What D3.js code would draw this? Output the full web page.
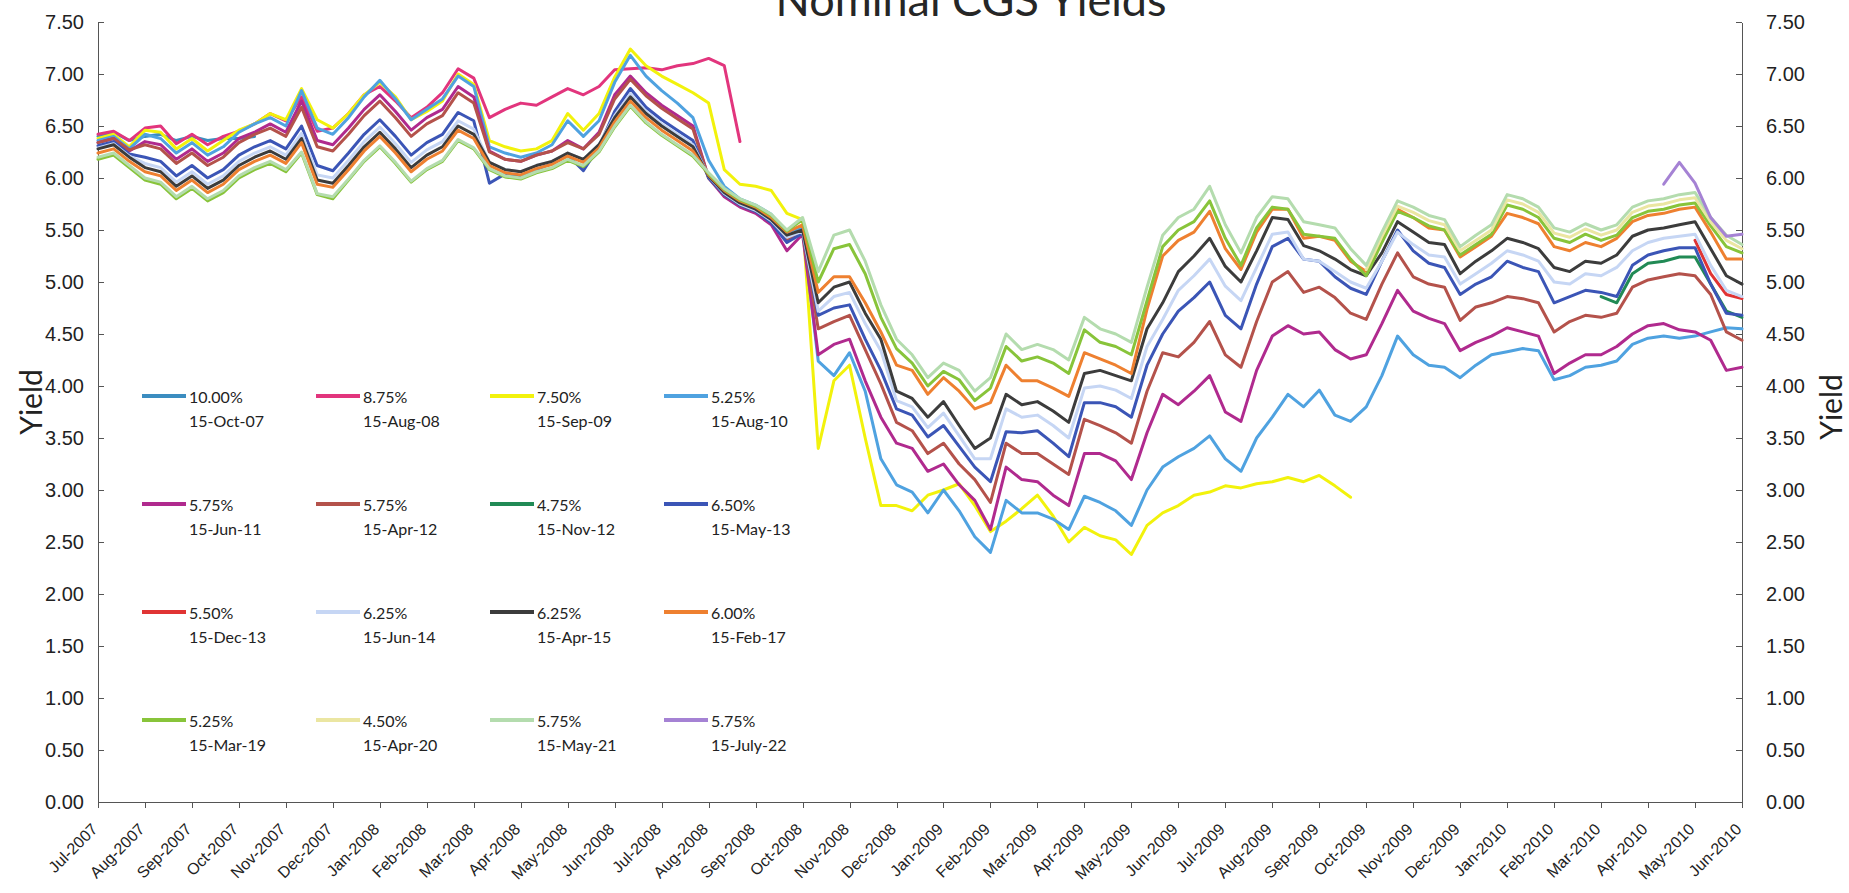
<!DOCTYPE html>
<html>
<head>
<meta charset="utf-8">
<title>Nominal CGS Yields</title>
<script src="https://d3js.org/d3.v7.min.js"></script>
<style>
  body { margin: 0; background: #fff; }
  svg { display: block; font-family: Lato, "Open Sans", sans-serif; }
  .axis path, .axis line { stroke: #555; shape-rendering: crispEdges; }
  .axis text { fill: #222; }
</style>
</head>
<body>
<svg id="chart" width="1849" height="893"></svg>
<script>
// x axis labels, one per month
var months = ["Jul-2007", "Aug-2007", "Sep-2007", "Oct-2007", "Nov-2007", "Dec-2007",
  "Jan-2008", "Feb-2008", "Mar-2008", "Apr-2008", "May-2008", "Jun-2008",
  "Jul-2008", "Aug-2008", "Sep-2008", "Oct-2008", "Nov-2008", "Dec-2008",
  "Jan-2009", "Feb-2009", "Mar-2009", "Apr-2009", "May-2009", "Jun-2009",
  "Jul-2009", "Aug-2009", "Sep-2009", "Oct-2009", "Nov-2009", "Dec-2009",
  "Jan-2010", "Feb-2010", "Mar-2010", "Apr-2010", "May-2010", "Jun-2010"];

var yTicks = [0, 0.5, 1, 1.5, 2, 2.5, 3, 3.5, 4, 4.5, 5, 5.5, 6, 6.5, 7, 7.5];

// readings are taken on the 1st, 11th and 21st of each month (index 0 = 1 Jul 2007)
var readings = d3.range(106).map(function (i) { return i / 3; });

// yields (%)
var oct07 = [6.40,6.44,6.36,6.40,6.42,6.36,6.40,6.36,6.38,6.38,6.40];

var aug08 = [6.42,6.45,6.36,6.48,6.50,6.33,6.42,6.32,6.40,6.45,
  6.52,6.62,6.55,6.78,6.45,6.48,6.62,6.80,6.88,6.74,
  6.58,6.68,6.82,7.05,6.96,6.58,6.66,6.72,6.70,6.78,
  6.86,6.80,6.88,7.04,7.05,7.06,7.04,7.08,7.10,7.15,
  7.08,6.35];

var sep09 = [6.38,6.42,6.30,6.46,6.44,6.28,6.38,6.26,6.36,6.46,
  6.52,6.62,6.56,6.86,6.56,6.48,6.62,6.80,6.92,6.78,
  6.56,6.64,6.74,7.00,6.90,6.36,6.30,6.26,6.28,6.36,
  6.62,6.46,6.62,6.97,7.24,7.08,6.98,6.90,6.82,6.72,
  6.08,5.94,5.92,5.88,5.66,5.60,3.40,4.05,4.20,3.50,
  2.85,2.85,2.80,2.95,3.00,3.06,2.85,2.60,2.70,2.82,
  2.95,2.75,2.50,2.64,2.56,2.52,2.38,2.66,2.78,2.85,
  2.95,2.98,3.04,3.02,3.06,3.08,3.12,3.08,3.14,3.04,
  2.93];

var aug10 = [6.36,6.40,6.28,6.42,6.38,6.24,6.34,6.22,6.30,6.44,
  6.52,6.58,6.50,6.84,6.48,6.42,6.58,6.78,6.94,6.76,
  6.56,6.66,6.76,6.98,6.88,6.30,6.24,6.20,6.24,6.32,
  6.55,6.40,6.55,6.92,7.18,6.98,6.84,6.72,6.58,6.17,
  5.92,5.80,5.74,5.65,5.48,5.52,4.24,4.10,4.32,3.95,
  3.30,3.05,2.98,2.78,3.00,2.80,2.55,2.40,2.90,2.78,
  2.78,2.72,2.62,2.94,2.88,2.80,2.66,3.00,3.22,3.32,
  3.40,3.52,3.30,3.18,3.50,3.70,3.92,3.80,3.96,3.72,
  3.66,3.80,4.10,4.48,4.30,4.20,4.18,4.08,4.20,4.30,
  4.33,4.36,4.34,4.06,4.10,4.18,4.20,4.24,4.40,4.46,
  4.48,4.46,4.48,4.52,4.56,4.55];

var jun11 = [6.34,6.38,6.26,6.35,6.32,6.18,6.28,6.16,6.24,6.38,
  6.44,6.52,6.44,6.74,6.36,6.32,6.48,6.66,6.80,6.64,
  6.46,6.58,6.66,6.88,6.78,6.26,6.18,6.16,6.22,6.26,
  6.36,6.28,6.44,6.80,6.98,6.82,6.70,6.60,6.50,6.00,
  5.82,5.72,5.66,5.55,5.30,5.46,4.30,4.40,4.45,4.05,
  3.70,3.45,3.40,3.18,3.25,3.05,2.90,2.62,3.22,3.10,
  3.08,2.95,2.85,3.35,3.35,3.28,3.10,3.55,3.92,3.82,
  3.95,4.10,3.75,3.66,4.15,4.48,4.58,4.50,4.52,4.35,
  4.26,4.30,4.60,4.92,4.72,4.65,4.60,4.34,4.42,4.48,
  4.56,4.52,4.48,4.12,4.22,4.30,4.30,4.38,4.50,4.58,
  4.60,4.54,4.52,4.44,4.15,4.18];

var apr12 = [6.34,6.38,6.27,6.32,6.28,6.14,6.24,6.12,6.20,6.34,
  6.42,6.48,6.40,6.68,6.30,6.26,6.42,6.60,6.74,6.58,
  6.40,6.52,6.60,6.82,6.72,6.25,6.18,6.16,6.22,6.26,
  6.34,6.28,6.42,6.76,6.95,6.79,6.67,6.57,6.47,6.00,
  5.84,5.74,5.68,5.58,5.40,5.48,4.55,4.62,4.68,4.35,
  4.02,3.65,3.57,3.35,3.45,3.25,3.10,2.88,3.45,3.35,
  3.35,3.25,3.15,3.68,3.62,3.55,3.45,3.95,4.32,4.28,
  4.42,4.62,4.30,4.18,4.62,5.00,5.10,4.90,4.95,4.85,
  4.70,4.64,4.98,5.28,5.05,4.98,4.95,4.63,4.76,4.80,
  4.86,4.84,4.80,4.52,4.62,4.68,4.66,4.70,4.95,5.02,
  5.05,5.08,5.06,4.88,4.52,4.44];

var nov12 = [4.86,4.80,5.08,5.18,5.20,5.24,5.24,4.98,4.72,4.66];

var may13 = [6.31,6.35,6.23,6.20,6.16,6.02,6.12,6.00,6.08,6.22,
  6.30,6.36,6.28,6.50,6.12,6.07,6.24,6.42,6.56,6.40,
  6.22,6.34,6.42,6.63,6.55,5.95,6.04,6.02,6.08,6.14,
  6.22,6.07,6.30,6.64,6.86,6.68,6.56,6.46,6.36,6.00,
  5.84,5.74,5.68,5.57,5.38,5.47,4.68,4.75,4.78,4.45,
  4.15,3.78,3.72,3.51,3.62,3.42,3.22,3.08,3.56,3.55,
  3.57,3.45,3.32,3.84,3.84,3.80,3.70,4.20,4.50,4.72,
  4.85,5.00,4.68,4.55,4.98,5.34,5.42,5.22,5.20,5.05,
  4.94,4.88,5.20,5.50,5.30,5.18,5.14,4.88,4.98,5.05,
  5.20,5.14,5.10,4.80,4.86,4.92,4.90,4.86,5.16,5.26,
  5.30,5.33,5.33,4.98,4.70,4.68];

var dec13 = [5.40,5.08,4.88,4.84];

var jun14 = [6.29,6.33,6.21,6.14,6.10,5.96,6.06,5.94,6.02,6.16,
  6.24,6.30,6.22,6.43,6.03,6.00,6.17,6.35,6.49,6.33,
  6.15,6.27,6.35,6.55,6.47,6.15,6.08,6.06,6.12,6.16,
  6.24,6.18,6.32,6.60,6.81,6.64,6.52,6.42,6.32,6.02,
  5.85,5.75,5.69,5.59,5.43,5.49,4.72,4.86,4.90,4.60,
  4.34,3.86,3.80,3.60,3.74,3.52,3.30,3.30,3.78,3.70,
  3.72,3.62,3.50,3.98,4.00,3.96,3.88,4.38,4.64,4.92,
  5.06,5.22,4.96,4.82,5.14,5.46,5.48,5.22,5.20,5.10,
  5.00,4.94,5.20,5.48,5.36,5.26,5.24,4.98,5.08,5.18,
  5.30,5.26,5.20,5.00,4.98,5.08,5.06,5.14,5.30,5.38,
  5.42,5.44,5.46,5.16,4.92,4.86];

var apr15 = [6.28,6.32,6.20,6.10,6.06,5.92,6.02,5.90,5.98,6.12,
  6.20,6.26,6.18,6.38,5.98,5.95,6.12,6.30,6.44,6.28,
  6.10,6.22,6.30,6.50,6.42,6.15,6.08,6.06,6.12,6.16,
  6.24,6.18,6.32,6.58,6.78,6.62,6.50,6.40,6.30,6.02,
  5.86,5.76,5.70,5.60,5.45,5.50,4.80,4.95,5.00,4.70,
  4.45,3.95,3.88,3.70,3.85,3.62,3.40,3.50,3.92,3.82,
  3.85,3.76,3.65,4.12,4.15,4.10,4.05,4.55,4.80,5.10,
  5.25,5.42,5.15,5.00,5.30,5.62,5.60,5.35,5.30,5.22,
  5.12,5.06,5.28,5.58,5.48,5.38,5.36,5.08,5.20,5.30,
  5.42,5.38,5.32,5.14,5.10,5.20,5.18,5.26,5.44,5.50,
  5.52,5.55,5.58,5.32,5.06,4.98];

var feb17 = [6.24,6.28,6.16,6.06,6.02,5.88,5.98,5.86,5.94,6.08,
  6.16,6.22,6.14,6.34,5.94,5.91,6.08,6.26,6.40,6.24,
  6.06,6.18,6.26,6.46,6.38,6.12,6.05,6.03,6.09,6.13,
  6.21,6.15,6.29,6.54,6.74,6.58,6.46,6.36,6.26,6.03,
  5.88,5.78,5.72,5.62,5.48,5.55,4.90,5.05,5.05,4.80,
  4.52,4.20,4.15,3.92,4.08,3.95,3.78,3.84,4.20,4.05,
  4.05,3.98,3.90,4.32,4.26,4.20,4.12,4.74,5.25,5.40,
  5.48,5.68,5.32,5.12,5.48,5.70,5.70,5.42,5.44,5.40,
  5.20,5.10,5.40,5.70,5.62,5.52,5.50,5.24,5.34,5.44,
  5.66,5.62,5.56,5.34,5.30,5.38,5.34,5.42,5.58,5.64,
  5.66,5.70,5.72,5.48,5.22,5.22];

var mar19 = [6.18,6.22,6.10,5.98,5.94,5.80,5.90,5.78,5.86,6.00,
  6.08,6.14,6.06,6.24,5.84,5.80,5.98,6.16,6.30,6.14,
  5.96,6.08,6.16,6.36,6.28,6.08,6.01,5.99,6.05,6.09,
  6.17,6.11,6.25,6.49,6.69,6.53,6.41,6.31,6.21,6.04,
  5.89,5.79,5.73,5.64,5.49,5.60,5.00,5.32,5.36,5.08,
  4.66,4.36,4.22,4.00,4.14,4.06,3.86,3.98,4.38,4.24,
  4.28,4.22,4.12,4.54,4.42,4.38,4.30,4.82,5.34,5.50,
  5.58,5.78,5.42,5.16,5.52,5.72,5.70,5.46,5.44,5.42,
  5.22,5.06,5.38,5.68,5.62,5.54,5.50,5.26,5.36,5.46,
  5.74,5.70,5.62,5.42,5.38,5.46,5.40,5.45,5.62,5.68,
  5.70,5.74,5.76,5.54,5.34,5.28];

var apr20 = [5.12,5.44,5.73,5.67,5.59,5.55,5.30,5.40,5.50,5.79,
  5.75,5.67,5.47,5.43,5.51,5.45,5.50,5.67,5.73,5.75,
  5.79,5.81,5.58,5.40,5.32];

var may21 = [6.20,6.24,6.12,6.00,5.96,5.82,5.92,5.80,5.88,6.02,
  6.10,6.16,6.08,6.25,5.85,5.82,5.99,6.17,6.31,6.15,
  5.97,6.09,6.17,6.37,6.29,6.09,6.02,6.00,6.06,6.10,
  6.18,6.12,6.26,6.50,6.70,6.54,6.42,6.32,6.22,6.05,
  5.90,5.80,5.74,5.65,5.50,5.62,5.10,5.45,5.50,5.20,
  4.78,4.45,4.30,4.08,4.22,4.15,3.95,4.08,4.50,4.35,
  4.40,4.35,4.25,4.66,4.55,4.50,4.42,4.95,5.45,5.62,
  5.70,5.92,5.55,5.28,5.62,5.82,5.80,5.58,5.55,5.52,
  5.32,5.16,5.48,5.78,5.72,5.64,5.60,5.34,5.45,5.55,
  5.84,5.80,5.72,5.52,5.48,5.56,5.50,5.55,5.72,5.78,
  5.80,5.84,5.86,5.62,5.45,5.36];

var jul22 = [5.94,6.15,5.95,5.62,5.44,5.46];

// legend order = drawing order
var bonds = [
  {coupon: "10.00%", maturity: "15-Oct-07", color: "#3b8dc0", first: 0, values: oct07},
  {coupon: "8.75%", maturity: "15-Aug-08", color: "#e2357d", first: 0, values: aug08},
  {coupon: "7.50%", maturity: "15-Sep-09", color: "#f2f20c", first: 0, values: sep09},
  {coupon: "5.25%", maturity: "15-Aug-10", color: "#4fa2e0", first: 0, values: aug10},
  {coupon: "5.75%", maturity: "15-Jun-11", color: "#b02a8e", first: 0, values: jun11},
  {coupon: "5.75%", maturity: "15-Apr-12", color: "#b4524b", first: 0, values: apr12},
  {coupon: "4.75%", maturity: "15-Nov-12", color: "#218a55", first: 96, values: nov12},
  {coupon: "6.50%", maturity: "15-May-13", color: "#3b55b6", first: 0, values: may13},
  {coupon: "5.50%", maturity: "15-Dec-13", color: "#e03434", first: 102, values: dec13},
  {coupon: "6.25%", maturity: "15-Jun-14", color: "#c6d6f4", first: 0, values: jun14},
  {coupon: "6.25%", maturity: "15-Apr-15", color: "#3c3c3c", first: 0, values: apr15},
  {coupon: "6.00%", maturity: "15-Feb-17", color: "#ee8030", first: 0, values: feb17},
  {coupon: "5.25%", maturity: "15-Mar-19", color: "#88c43a", first: 0, values: mar19},
  {coupon: "4.50%", maturity: "15-Apr-20", color: "#ebe6a2", first: 81, values: apr20},
  {coupon: "5.75%", maturity: "15-May-21", color: "#b4dcae", first: 0, values: may21},
  {coupon: "5.75%", maturity: "15-July-22", color: "#a582d4", first: 100, values: jul22}
];

var svg = d3.select("#chart");

var x = d3.scaleLinear().domain([0, 35]).range([98, 1742]);
var y = d3.scaleLinear().domain([0, 7.5]).range([802, 22]);

//Left axis
svg.append("g")
    .attr("class", "axis")
    .attr("transform", "translate(" + x(0) + ",0)")
    .call(d3.axisLeft(y).tickValues(yTicks).tickFormat(d3.format(".2f"))
        .tickSize(-6).tickSizeOuter(0).tickPadding(14))
    .selectAll("text").style("font-size", "20px");

//Right axis
svg.append("g")
    .attr("class", "axis")
    .attr("transform", "translate(" + x(35) + ",0)")
    .call(d3.axisRight(y).tickValues(yTicks).tickFormat(d3.format(".2f"))
        .tickSize(-6).tickSizeOuter(0).tickPadding(24))
    .selectAll("text").style("font-size", "20px");

//Bottom axis, labels turned 45 degrees
svg.append("g")
    .attr("class", "axis")
    .attr("transform", "translate(0," + y(0) + ")")
    .call(d3.axisBottom(x).tickValues(d3.range(months.length))
        .tickFormat(function (i) { return months[i]; })
        .tickSize(6).tickSizeOuter(0))
    .selectAll("text")
    .style("font-size", "16px")
    .attr("text-anchor", "end")
    .attr("x", -20)
    .attr("y", 20)
    .attr("dy", 0)
    .attr("transform", "rotate(-45)");

//Lines
var line = d3.line()
    .x(function (d) { return x(d[0]); })
    .y(function (d) { return y(d[1]); });

bonds.forEach(function (b) {
    var pts = b.values.map(function (v, j) { return [readings[b.first + j], v]; });
    svg.append("path")
        .datum(pts)
        .attr("fill", "none")
        .attr("stroke", b.color)
        .attr("stroke-width", 3)
        .attr("stroke-linejoin", "round")
        .attr("stroke-linecap", "round")
        .attr("d", line);
});

//Legend, 4 per row
var legend = svg.append("g").style("font-size", "16px").style("fill", "#222");
bonds.forEach(function (b, i) {
    var lx = 142 + (i % 4) * 174;
    var ly = 396 + Math.floor(i / 4) * 108;
    legend.append("line")
        .attr("x1", lx).attr("x2", lx + 44)
        .attr("y1", ly).attr("y2", ly)
        .attr("stroke", b.color)
        .attr("stroke-width", 4);
    legend.append("text").attr("x", lx + 47).attr("y", ly + 7).text(b.coupon);
    legend.append("text").attr("x", lx + 47).attr("y", ly + 31).text(b.maturity);
});

//Titles (the chart title sits partly above the top edge, as in the scan)
svg.append("text")
    .attr("x", 971).attr("y", 16)
    .attr("text-anchor", "middle")
    .style("font-size", "45px")
    .style("fill", "#262626")
    .text("Nominal CGS Yields");

svg.append("text")
    .attr("transform", "translate(42,402) rotate(-90)")
    .attr("text-anchor", "middle")
    .style("font-size", "30px")
    .style("fill", "#222")
    .text("Yield");

svg.append("text")
    .attr("transform", "translate(1842,407) rotate(-90)")
    .attr("text-anchor", "middle")
    .style("font-size", "30px")
    .style("fill", "#222")
    .text("Yield");
</script>
</body>
</html>
